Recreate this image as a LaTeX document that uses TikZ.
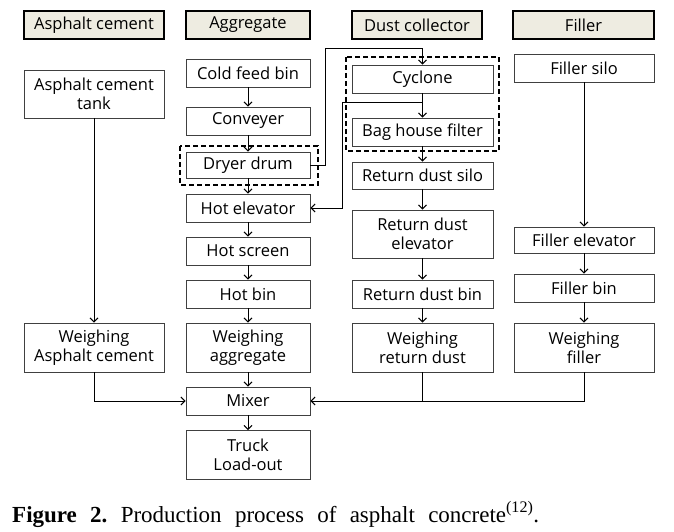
\documentclass[tikz,border=0pt]{standalone}
\usepackage{fontspec}
\usetikzlibrary{arrows.meta}
\setmainfont{Liberation Serif}
\newfontfamily\boxfont{Open Sans}
\definecolor{headfill}{HTML}{EEECE1}
\frenchspacing

\begin{document}
\begin{tikzpicture}[x=1pt, y=-1pt,
    box/.style={draw=black!75, line width=0.8pt, fill=white, align=center, inner sep=0pt,
        font=\boxfont\fontsize{16.5}{19}\selectfont, text=black},
    head/.style={box, draw=black, line width=1.8pt, fill=headfill, minimum height=28pt},
    group/.style={draw=black, line width=1.6pt, dash pattern=on 5pt off 3pt},
    flow/.style={-{Straight Barb[length=4pt,width=8pt]}, line width=1pt}]
    \useasboundingbox (0,0) rectangle (674,532);

    % Dashed groups
    \draw[group] (180,146) rectangle (318,185);
    \draw[group] (346,57) rectangle (499,151);

    % Headers
    \node[head, minimum width=140pt] (hCement) at (94,25) {Asphalt cement};
    \node[head, minimum width=124pt] (hAggr) at (248,25) {Aggregate};
    \node[head, minimum width=130pt] (hDust) at (417,25) {Dust collector};
    \node[head, minimum width=141pt] (hFiller) at (583.5,25) {Filler};

    % Asphalt cement column
    \node[box, minimum width=140pt, minimum height=48pt] (tank) at (94,94) {Asphalt cement\\tank};
    \node[box, minimum width=140pt, minimum height=49pt] (wCement) at (94,347.5) {Weighing\\Asphalt cement};

    % Aggregate column
    \node[box, minimum width=124pt, minimum height=28pt] (cold) at (248,73) {Cold feed bin};
    \node[box, minimum width=124pt, minimum height=28pt] (conv) at (248,121) {Conveyer};
    \node[box, minimum width=124pt, minimum height=26pt] (dryer) at (248,165) {Dryer drum};
    \node[box, minimum width=124pt, minimum height=28pt] (hotElev) at (248,208) {Hot elevator};
    \node[box, minimum width=124pt, minimum height=28pt] (hotScreen) at (248,251) {Hot screen};
    \node[box, minimum width=124pt, minimum height=28pt] (hotBin) at (248,294) {Hot bin};
    \node[box, minimum width=124pt, minimum height=49pt] (wAggr) at (248,347.5) {Weighing\\aggregate};
    \node[box, minimum width=124pt, minimum height=28pt] (mixer) at (248,401) {Mixer};
    \node[box, minimum width=124pt, minimum height=49pt] (truck) at (248,455) {Truck\\Load-out};

    % Dust collector column
    \node[box, minimum width=141pt, minimum height=28pt] (cyclone) at (422.5,79) {Cyclone};
    \node[box, minimum width=141pt, minimum height=28pt] (bag) at (422.5,132) {Bag house filter};
    \node[box, minimum width=141pt, minimum height=27pt] (rdSilo) at (422.5,175.5) {Return dust silo};
    \node[box, minimum width=141pt, minimum height=48pt] (rdElev) at (422.5,234) {Return dust\\elevator};
    \node[box, minimum width=141pt, minimum height=28pt] (rdBin) at (422.5,294) {Return dust bin};
    \node[box, minimum width=141pt, minimum height=49pt] (wDust) at (422.5,347.5) {Weighing\\return dust};

    % Filler column
    \node[box, minimum width=140pt, minimum height=28pt] (fSilo) at (584,68) {Filler silo};
    \node[box, minimum width=140pt, minimum height=26pt] (fElev) at (584,240) {Filler elevator};
    \node[box, minimum width=140pt, minimum height=28pt] (fBin) at (584,288) {Filler bin};
    \node[box, minimum width=140pt, minimum height=49pt] (wFiller) at (584,347.5) {Weighing\\filler};

    % Straight flows
    \foreach \a/\b in {tank/wCement, cold/conv, conv/dryer, dryer/hotElev, hotElev/hotScreen,
        hotScreen/hotBin, hotBin/wAggr, wAggr/mixer, mixer/truck, cyclone/bag, bag/rdSilo,
        rdSilo/rdElev, rdElev/rdBin, rdBin/wDust, fSilo/fElev, fElev/fBin, fBin/wFiller} {
        \draw[flow] (\a.south) -- (\b.north);
    }

    % Dust loop
    \coordinate (bendUp) at (325,49);
    \coordinate (split) at (422.5,103);
    \coordinate (bendDown) at (342,103);
    \draw[flow] (dryer.east) -| (bendUp) -| (cyclone.north);
    \draw[flow] (split) -- (bendDown) |- (hotElev.east);

    % Into the mixer
    \draw[flow] (wCement.south) |- (mixer.west);
    \draw[flow] (wFiller.south) |- (mixer.east);
    \draw[line width=1pt] (wDust.south) -- (wDust.south |- mixer.east);

    % Caption
    \node[anchor=base west, inner sep=0pt, font=\fontsize{23}{26}\selectfont] (caption) at (12,522)
        {\makebox[527pt][s]{\textbf{Figure 2.} Production process of asphalt concrete\textsuperscript{(12)}.}};
\end{tikzpicture}
\end{document}
